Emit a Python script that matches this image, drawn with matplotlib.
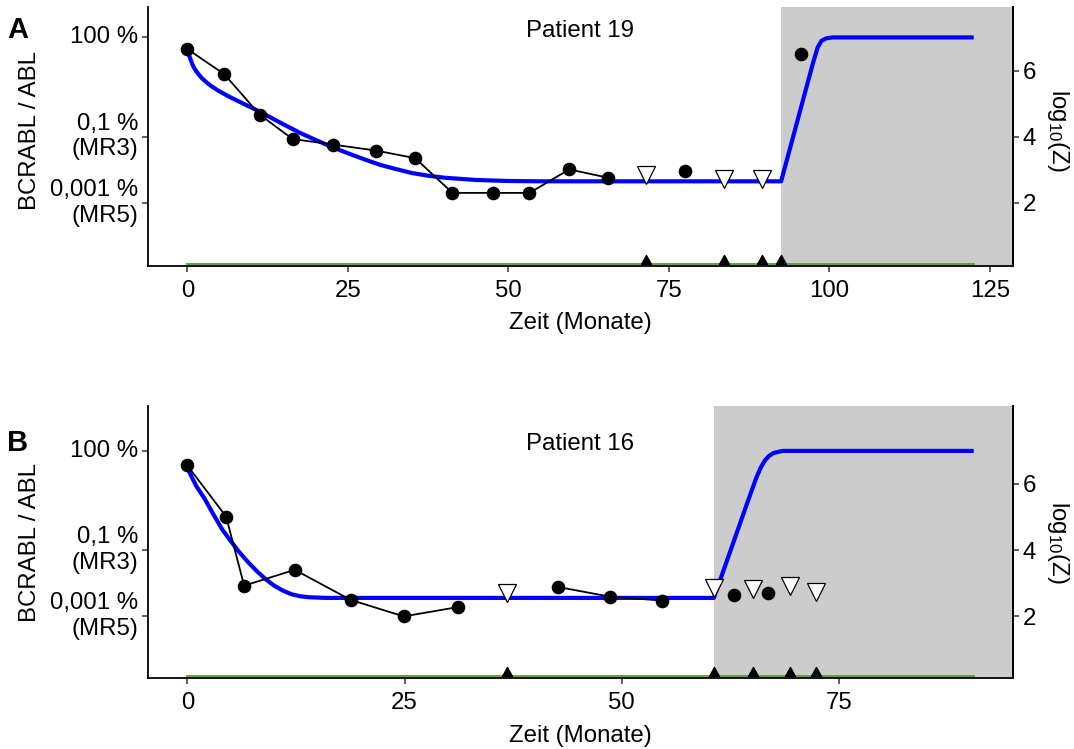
import numpy as np
import matplotlib
matplotlib.use("Agg")
import matplotlib.pyplot as plt
from matplotlib.patches import Rectangle

plt.rcParams['font.family'] = ['Liberation Sans', 'DejaVu Sans']
plt.rcParams['mathtext.default'] = 'regular'

# Patient 19 (Panel A)
a_meas_x = [0, 5.75, 11.3, 16.4, 22.7, 29.4, 35.5, 41.3, 47.6, 53.3, 59.5, 65.5, 77.5, 95.6]
a_meas_y = [6.65, 5.89, 4.66, 3.93, 3.76, 3.58, 3.35, 2.30, 2.30, 2.30, 3.01, 2.76, 2.95, 6.51]
a_run = [1, 1, 1, 1, 1, 1, 1, 1, 1, 1, 1, 1, 2, 3]
a_undet_x = [71.5, 83.6, 89.5]
a_undet_y = [2.83, 2.71, 2.73]
a_event_x = [71.5, 83.6, 89.5, 92.5]
a_shade_start = 92.5
a_model_x = [0, 0.2, 0.42, 0.8, 1.2, 1.7, 2.2, 3, 3.8, 5, 6.4, 8.5, 10.6, 12.5, 15, 17.5, 20,
             22.5, 25, 27.5, 30, 32.5, 35, 37.5, 40, 45, 50, 55, 92.5, 97.5, 98.2, 98.8,
             99.5, 100.5, 122.5]
a_model_y = [6.6, 6.5, 6.38, 6.18, 6.03, 5.9, 5.78, 5.64, 5.52, 5.37, 5.22, 5.02, 4.82, 4.63,
             4.37, 4.12, 3.9, 3.69, 3.5, 3.32, 3.15, 3.02, 2.9, 2.82, 2.76, 2.69, 2.66, 2.65,
             2.65, 6.25, 6.7, 6.9, 6.97, 7.0, 7.0]
a_base = 0.15

# Patient 16 (Panel B)
b_meas_x = [0, 4.47, 6.54, 12.36, 18.8, 24.9, 31.1, 42.67, 48.6, 54.6, 62.93, 66.84]
b_meas_y = [6.56, 5.01, 2.92, 3.40, 2.49, 1.99, 2.27, 2.88, 2.59, 2.47, 2.64, 2.69]
b_run = [1, 1, 1, 1, 1, 1, 1, 2, 2, 2, 3, 4]
b_undet_x = [36.8, 60.6, 65.06, 69.4, 72.4]
b_undet_y = [2.70, 2.85, 2.83, 2.90, 2.74]
b_event_x = [36.8, 60.6, 65.06, 69.4, 72.4]
b_shade_start = 60.6
b_model_x = [0, 1, 2, 3, 4, 5, 6, 7, 8, 9, 10, 11, 12, 13, 14, 16, 60.6, 64.5, 65.5, 66,
             66.5, 67, 67.5, 68.5, 90.5]
b_model_y = [6.48, 5.95, 5.55, 5.08, 4.63, 4.27, 3.93, 3.63, 3.36, 3.12, 2.92, 2.77, 2.66,
             2.6, 2.57, 2.55, 2.55, 5.47, 6.2, 6.5, 6.72, 6.86, 6.94, 7.0, 7.0]
b_base = 0.19

left_ticks = [7, 4, 2]
left_labels = ['100 %', '0,1 %\n(MR3)', '0,001 %\n(MR5)']
right_ticks = [2, 4, 6]

FS = 17.3
W, H = 1074, 749
fig = plt.figure(figsize=(W / 100, H / 100), dpi=100)

# marker: triangle with its base on the data point
event_marker = [(-1, 0), (1, 0), (0, 1.8), (-1, 0)]


def panel(rect, mx, my, run, ux, uy, ex, shade, modx, mody, base, xlim, ylim, xticks, title):
    ax = fig.add_axes(rect)
    ax.set_xlim(xlim)
    ax.set_ylim(ylim)
    ax.add_patch(Rectangle((shade, ylim[0]), xlim[1] - shade, ylim[1] - ylim[0],
                           facecolor='#cccccc', edgecolor='none', zorder=0))
    ax.plot([modx[0], modx[-1]], [base, base], color='#5a9a32', lw=1.3, zorder=1)
    ax.plot(modx, mody, color='#0000ff', lw=3.0, zorder=2, solid_capstyle='butt',
            solid_joinstyle='round')
    mx, my, run = np.array(mx), np.array(my), np.array(run)
    for r in np.unique(run):
        sel = run == r
        ax.plot(mx[sel], my[sel], color='black', lw=1.3, zorder=3)
    ax.plot(mx, my, 'o', color='black', ms=8.8, zorder=4)
    ax.plot(ux, uy, 'v', mfc='white', mec='black', mew=0.9, ms=12.5, zorder=5)
    ax.plot(ex, [base] * len(ex), linestyle='none', marker=event_marker,
            color='black', ms=13, zorder=5)
    ax.text(np.mean(xlim), 7.2, title, ha='center', va='center', fontsize=FS)

    ax.spines['top'].set_visible(False)
    for s in ['left', 'bottom', 'right']:
        ax.spines[s].set_linewidth(1.3)
        ax.spines[s].set_color('black')
    ax.set_xticks(xticks)
    ax.set_yticks(left_ticks)
    ax.set_yticklabels(left_labels, ha='right', va='center', multialignment='right')
    ax.tick_params(axis='both', length=4, width=1.1, color='#333333', labelsize=FS,
                   labelcolor='black')
    ax.tick_params(axis='x', pad=6)
    ax.tick_params(axis='y', pad=3)

    ax2 = ax.twinx()
    ax2.set_ylim(ylim)
    ax2.set_yticks(right_ticks)
    ax2.tick_params(axis='y', length=4, width=1.1, color='#333333', labelsize=FS,
                    labelcolor='black', pad=3)
    for s in ['top', 'left', 'bottom']:
        ax2.spines[s].set_visible(False)
    ax2.spines['right'].set_linewidth(1.3)
    return ax


def fx(px):
    return px / W


def fy(py):
    return 1 - py / H


rect_a = [fx(148), fy(266), fx(1013) - fx(148), fy(7) - fy(266)]
rect_b = [fx(148), fy(678), fx(1013) - fx(148), fy(406) - fy(678)]

panel(rect_a, a_meas_x, a_meas_y, a_run, a_undet_x, a_undet_y, a_event_x, a_shade_start,
      a_model_x, a_model_y, a_base, (-6.125, 128.625), (0.09, 7.92), [0, 25, 50, 75, 100, 125],
      'Patient 19')
panel(rect_b, b_meas_x, b_meas_y, b_run, b_undet_x, b_undet_y, b_event_x, b_shade_start,
      b_model_x, b_model_y, b_base, (-4.525, 95.025), (0.125, 8.36), [0, 25, 50, 75],
      'Patient 16')

# panel letters and axis titles
fig.text(fx(18), fy(30), 'A', fontsize=21, fontweight='bold', ha='center', va='center')
fig.text(fx(18), fy(443), 'B', fontsize=21, fontweight='bold', ha='center', va='center')
for yc in (130, 542):
    fig.text(fx(30), fy(yc), 'BCRABL / ABL', rotation=90, fontsize=FS, ha='center', va='center')
    fig.text(fx(1058), fy(yc), r'log$_{10}$(Z)', rotation=270, fontsize=FS, ha='center', va='center')
fig.text(fx(580), fy(323), 'Zeit (Monate)', fontsize=FS, ha='center', va='center')
fig.text(fx(580), fy(736), 'Zeit (Monate)', fontsize=FS, ha='center', va='center')

fig.savefig('out.png', dpi=100)
